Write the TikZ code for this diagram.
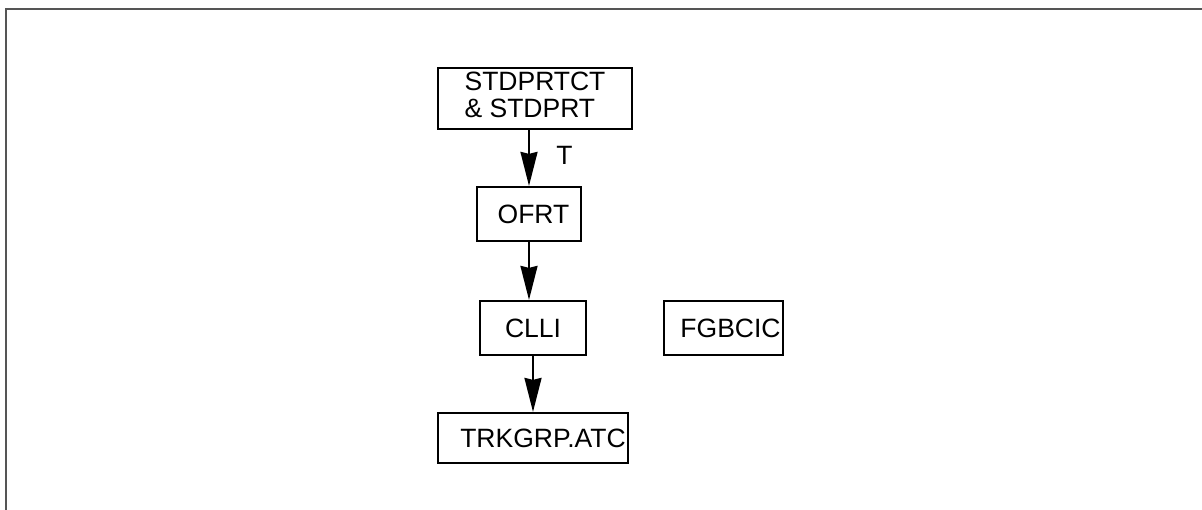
\documentclass[tikz,border=0pt]{standalone}
\usepackage{fontspec}
\setmainfont{Liberation Sans}
\usetikzlibrary{arrows.meta}
\begin{document}
\begin{tikzpicture}[x=1pt,y=-1pt,
  box/.style={draw=black,line width=2.2pt,inner sep=0pt,anchor=center,
    font=\fontsize{26.5}{27}\selectfont},
  conn/.style={line width=2.2pt,-{Stealth[length=34pt,width=17pt,inset=2pt]}},
  frameline/.style={line width=2.2pt,draw={rgb,255:red,85;green,85;blue,85}}]
\useasboundingbox (0,0) rectangle (1202,510);
\draw[frameline] (6,510) -- (6,9) -- (1202,9);
\node[box,minimum width=194pt,minimum height=61pt] (a) at (535,98.5)
  {\raisebox{-3pt}{\begin{tabular}{@{}l@{}}STDPRTCT\\\& STDPRT\end{tabular}}};
\node[box,minimum width=104pt,minimum height=54pt] (b) at (529,214) {\hspace*{9pt}OFRT};
\node[box,minimum width=106pt,minimum height=54pt] (c) at (533,328) {CLLI};
\node[box,minimum width=119pt,minimum height=54pt] (e) at (723.5,328) {\hspace*{14pt}FGBCIC};
\node[box,minimum width=190pt,minimum height=50pt] (d) at (533,438) {\hspace*{20pt}TRKGRP.ATC};
\node[font=\fontsize{26.5}{27}\selectfont,inner sep=0pt] (t) at (564.5,155) {T};
\draw[conn] (b.north |- a.south) -- (b.north);
\draw[conn] (b.south) -- (b.south |- c.north);
\draw[conn] (c.south) -- (d.north);
\end{tikzpicture}
\end{document}
